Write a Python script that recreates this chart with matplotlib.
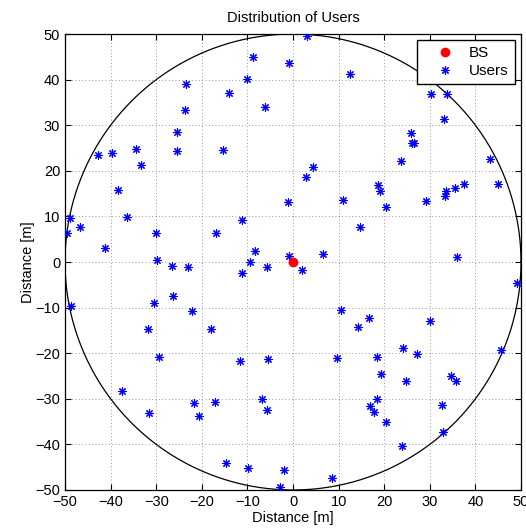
import numpy as np
import matplotlib
matplotlib.use('Agg')
import matplotlib.pyplot as plt

plt.rcParams['font.family'] = ['Liberation Sans', 'DejaVu Sans']

# base station
bs_x = [0.0]
bs_y = [0.0]

# user positions
users_x = [-8.7, -0.9, -10.1, -23.4, -14.1, -6.2, -23.6, -25.5, -42.7, -39.8,
           -34.5, -25.5, -15.4, -33.4, -38.3, -1.2, -49.0, -46.8, -36.3, -11.1,
           -49.5, -30.1, -16.8, -41.2, -8.4, -0.9, -29.8,
           3.1, 12.5, 30.2, 33.7, 33.1, 25.8, 26.2, 26.6, 43.3, 23.6,
           4.3, 2.8, 18.6, 19.0, 37.6, 35.6, 45.0, 33.6, 33.4, 10.9,
           29.1, 20.3, 14.7, 6.5, 35.9,
           -26.5, -23.1, -9.5, -5.7, -11.1, -48.6, -26.3, -30.4, -22.1, -31.7,
           -17.9, -29.3, -11.7, -5.5, -37.4, -21.7, -17.2, -6.9, -5.6, -31.6,
           -20.7, -14.6, -9.9, -1.9, -2.9,
           1.9, 49.2, 10.6, 16.6, 14.2, 30.1, 9.7, 18.5, 24.2, 27.2,
           45.7, 19.3, 24.7, 34.6, 35.7, 18.5, 16.8, 17.7, 20.4, 32.6,
           32.9, 24.0, 8.6]
users_y = [45.0, 43.6, 40.1, 39.0, 37.1, 33.9, 33.3, 28.6, 23.5, 24.0,
           24.7, 24.3, 24.6, 21.3, 15.8, 13.2, 9.6, 7.7, 9.9, 9.3,
           6.4, 6.3, 6.3, 3.1, 2.4, 1.3, 0.4,
           49.5, 41.3, 36.9, 36.9, 31.4, 28.4, 26.2, 26.2, 22.6, 22.2,
           20.8, 18.7, 16.9, 15.6, 17.1, 16.2, 17.2, 15.6, 14.5, 13.5,
           13.3, 12.0, 7.7, 1.8, 1.0,
           -0.9, -1.2, -0.1, -1.0, -2.4, -9.6, -7.5, -8.9, -10.7, -14.7,
           -14.7, -20.8, -21.8, -21.3, -28.2, -31.0, -30.7, -30.0, -32.5, -33.1,
           -33.8, -44.1, -45.1, -45.6, -49.4,
           -1.7, -4.5, -10.6, -12.2, -14.2, -13.0, -21.0, -20.9, -18.9, -20.2,
           -19.4, -24.5, -26.0, -25.1, -26.0, -30.1, -31.6, -32.8, -35.0, -31.3,
           -37.3, -40.3, -47.3]

radius = 50
ticks = np.arange(-50, 51, 10)

fig = plt.figure(figsize=(5.26, 5.32), dpi=100)
ax = fig.add_axes([0.1236, 0.079, 0.8669, 0.857])

theta = np.linspace(0, 2 * np.pi, 400)
ax.plot(radius * np.cos(theta), radius * np.sin(theta), color='black', linewidth=0.9)

ax.plot(bs_x, bs_y, 'o', color='red', markersize=6, label='BS', zorder=4)
ax.plot(users_x, users_y, linestyle='none', marker=(8, 2, 0), color='blue',
        markersize=6, markeredgewidth=0.8, label='Users', zorder=3)

ax.set_xlim(-50, 50)
ax.set_ylim(-50, 50)
ax.set_xticks(ticks)
ax.set_yticks(ticks)
ax.tick_params(direction='in', length=4, labelsize=10.5, top=True, right=True)
ax.grid(True, linestyle=(0, (1, 3)), color='#777777', linewidth=0.6)
for sp in ax.spines.values():
    sp.set_linewidth(0.9)

ax.set_title('Distribution of Users', fontsize=10.5, pad=9)
ax.set_xlabel('Distance [m]', fontsize=10.5, labelpad=1.5)
ax.set_ylabel('Distance [m]', fontsize=10.5, labelpad=0)

leg = ax.legend(loc='upper right', fontsize=11, fancybox=False, framealpha=1,
                edgecolor='black', borderaxespad=0.4, handletextpad=0.1,
                borderpad=0.4, labelspacing=0.25, handlelength=2.9)
leg.get_frame().set_linewidth(1.0)

fig.savefig('out.png', dpi=100)
